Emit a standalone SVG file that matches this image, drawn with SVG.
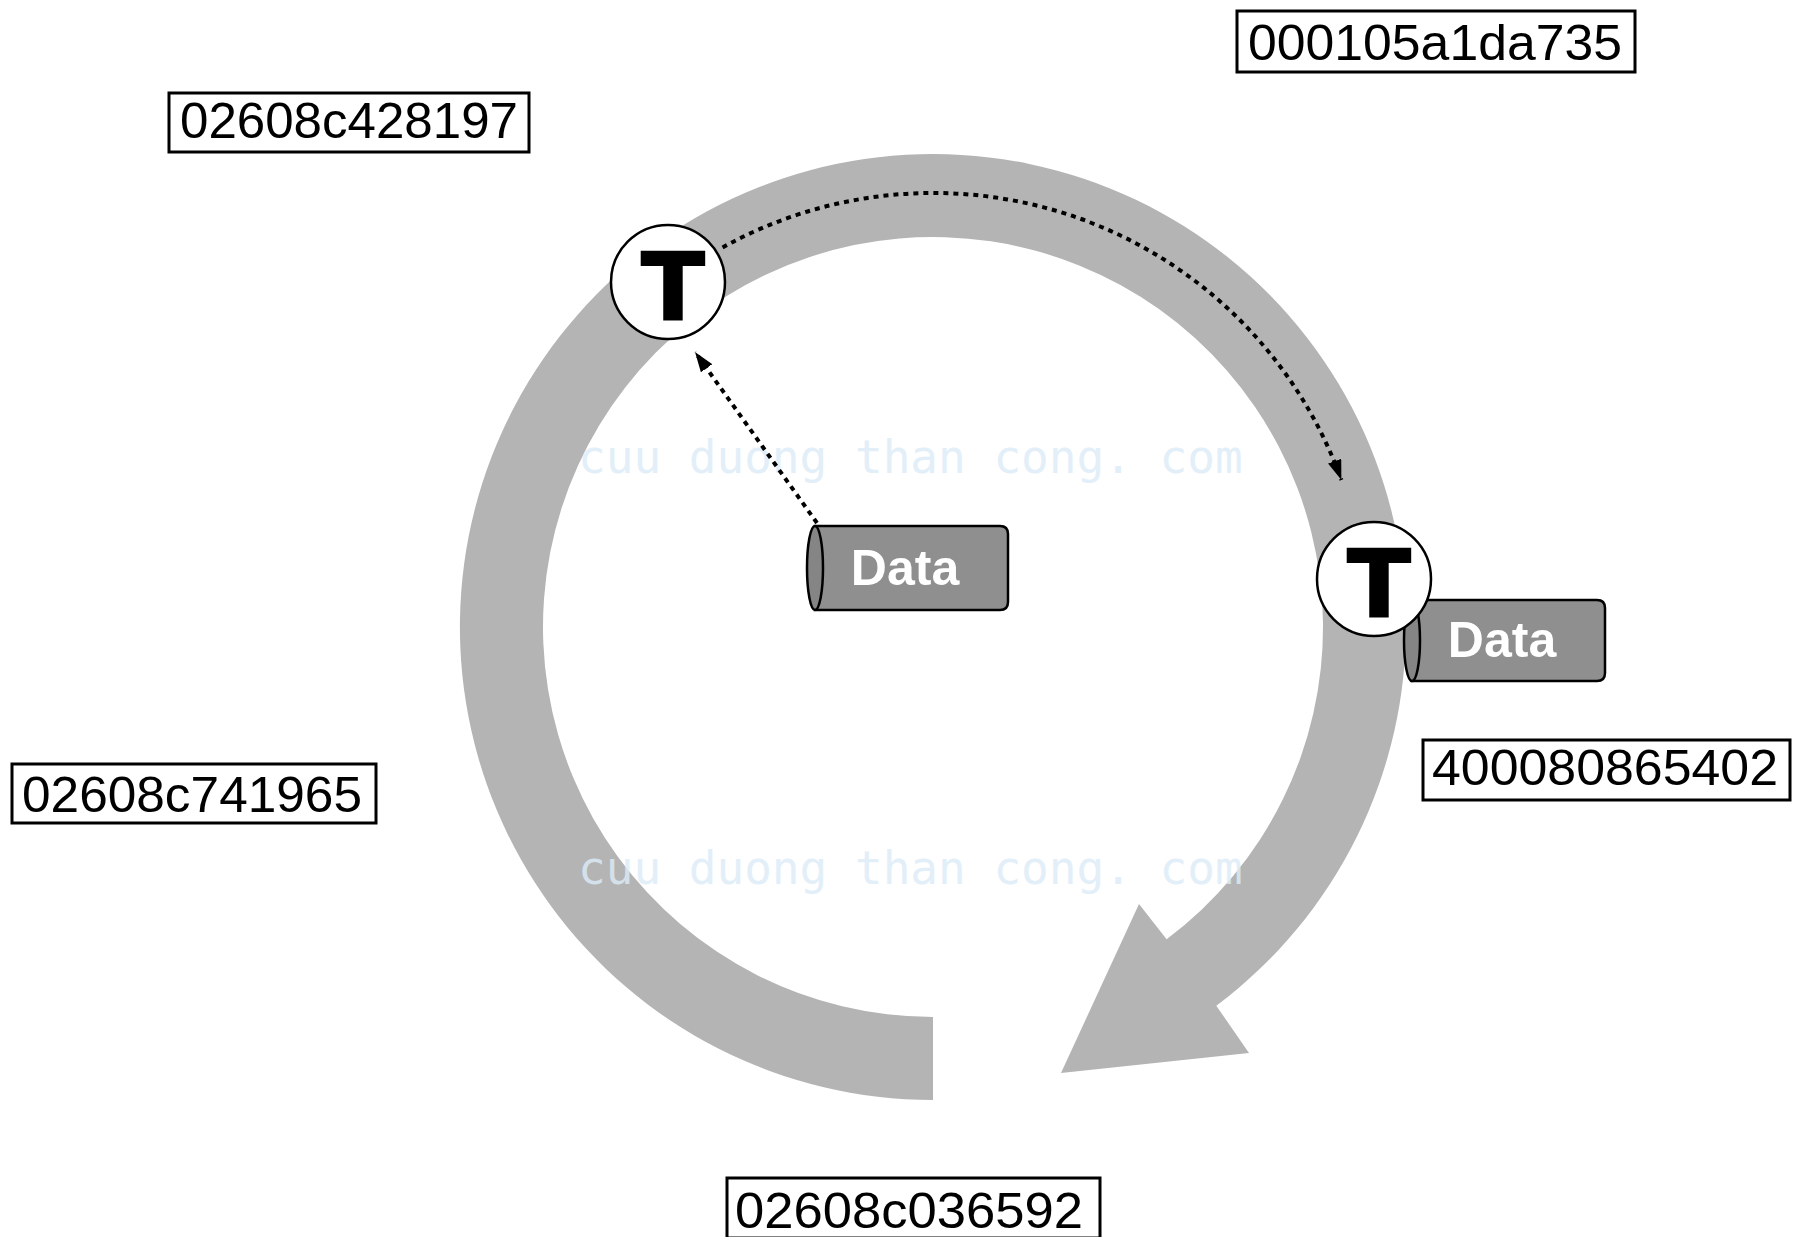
<svg xmlns="http://www.w3.org/2000/svg" width="1795" height="1237" viewBox="0 0 1795 1237">
<style>
.lbl rect{fill:#fff;stroke:#000;stroke-width:3}
.lbl text{font-family:"Liberation Sans",Arial,sans-serif;font-size:50px;fill:#000}
.tnode circle{fill:#fff;stroke:#000;stroke-width:2.5}
.tnode text{font-family:"DejaVu Sans",sans-serif;font-weight:bold;font-size:93px;fill:#000;stroke:#000;stroke-width:2;text-anchor:middle}
.data .body{fill:#8f8f8f;stroke:#000;stroke-width:2.5}
.data ellipse{fill:#858585;stroke:#000;stroke-width:2.5}
.data text{font-family:"Liberation Sans",Arial,sans-serif;font-weight:bold;font-size:50px;fill:#fff;text-anchor:middle}
.conn{fill:none;stroke:#000;stroke-width:4;stroke-dasharray:5 5}
.wm{font-family:"DejaVu Sans Mono",monospace;font-size:46px;fill:#dcecf8;opacity:0.8}
</style>
<defs>
<marker id="ah" viewBox="0 0 20 14" refX="20" refY="7" markerWidth="20" markerHeight="14" markerUnits="userSpaceOnUse" orient="auto">
<path d="M0,0 L20,7 L0,14 z" fill="#000"/>
</marker>
</defs>
<rect width="1795" height="1237" fill="#fff"/>
<g id="ring">
<path d="M 933 1100 A 473 473 0 1 1 1216.3 1005.7 L 1249 1053 L 1061 1073 L 1139 904 L 1166.6 939.3 A 390 390 0 1 0 933 1017 Z" fill="#b4b4b4"/>
</g>
<g id="watermark">
<text class="wm" x="578" y="473">cuu duong than cong. com</text>
<text class="wm" x="578" y="884">cuu duong than cong. com</text>
</g>
<g id="connectors">
<path class="conn" d="M 722.6 247.4 A 434 434 0 0 1 1341.4 480" marker-end="url(#ah)"/>
<path class="conn" d="M 817 523 L 695 352" marker-end="url(#ah)"/>
</g>
<g id="data-center" class="data">
<path class="body" d="M815,526 H1000 Q1008,526 1008,534 V602 Q1008,610 1000,610 H815 Z"/>
<ellipse cx="815" cy="568" rx="8" ry="42"/>
<text x="905" y="585">Data</text>
</g>
<g id="data-right" class="data">
<path class="body" d="M1412,600 H1597 Q1605,600 1605,608 V673 Q1605,681 1597,681 H1412 Z"/>
<ellipse cx="1412" cy="640.5" rx="8" ry="40.5"/>
<text x="1502" y="657">Data</text>
</g>
<g id="t-top" class="tnode">
<circle cx="668" cy="282" r="57"/>
<text x="673" y="320">T</text>
</g>
<g id="t-right" class="tnode">
<circle cx="1374" cy="579" r="57"/>
<text x="1379" y="617">T</text>
</g>
<g id="label-000105a1da735" class="lbl">
<rect x="1237" y="11" width="398" height="61"/>
<text x="1248" y="60" textLength="374" lengthAdjust="spacingAndGlyphs">000105a1da735</text>
</g>
<g id="label-02608c428197" class="lbl">
<rect x="169" y="93" width="360" height="59"/>
<text x="180" y="138" textLength="338" lengthAdjust="spacingAndGlyphs">02608c428197</text>
</g>
<g id="label-02608c741965" class="lbl">
<rect x="12" y="764" width="364" height="59"/>
<text x="22" y="812" textLength="340" lengthAdjust="spacingAndGlyphs">02608c741965</text>
</g>
<g id="label-400080865402" class="lbl">
<rect x="1423" y="740" width="367" height="60"/>
<text x="1432" y="785" textLength="346" lengthAdjust="spacingAndGlyphs">400080865402</text>
</g>
<g id="label-02608c036592" class="lbl">
<rect x="727" y="1178" width="373" height="60"/>
<text x="735" y="1228" textLength="348" lengthAdjust="spacingAndGlyphs">02608c036592</text>
</g>
</svg>
